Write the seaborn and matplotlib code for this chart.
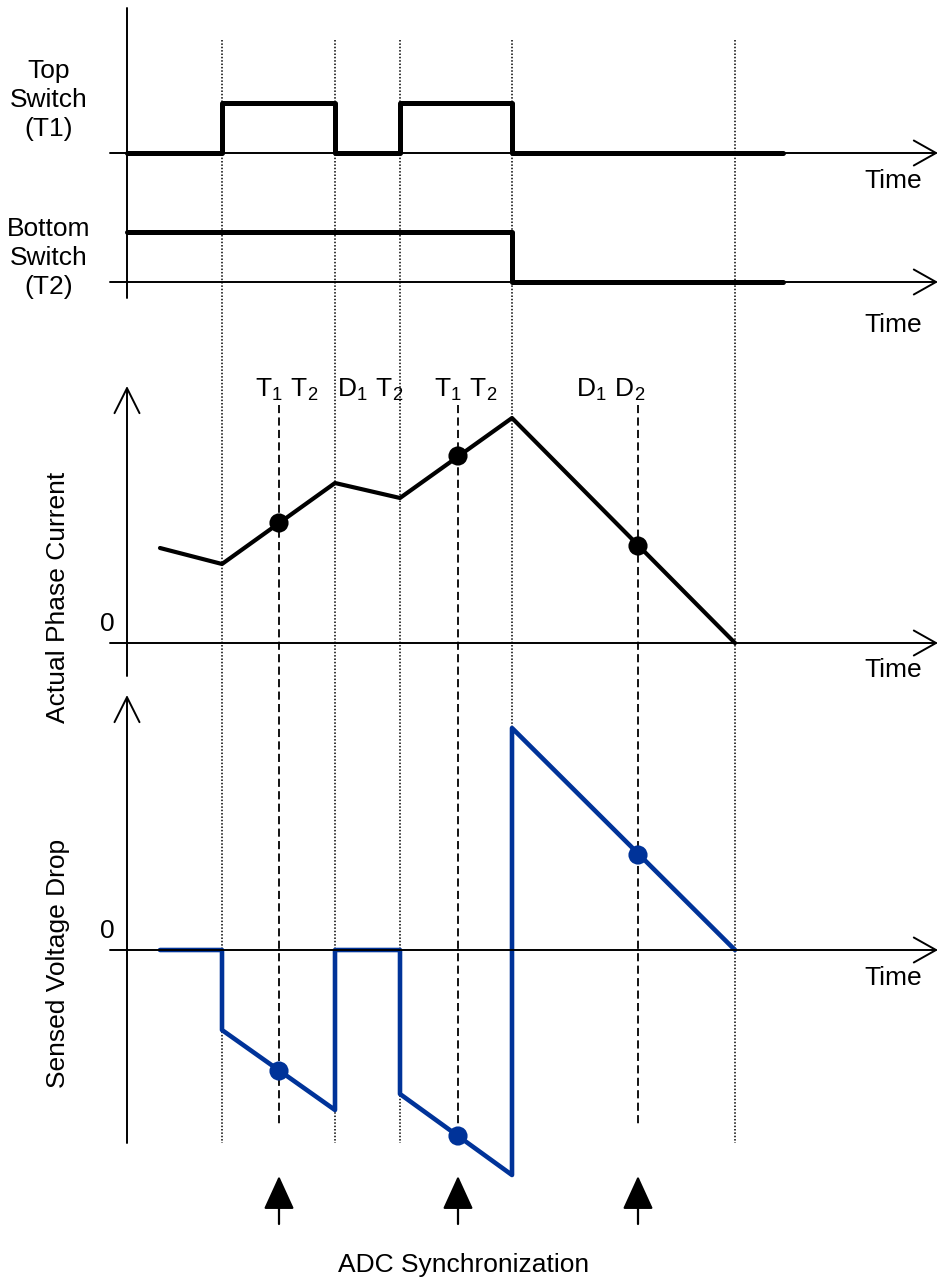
import numpy as np
import seaborn as sns
import matplotlib.pyplot as plt

# time in units of 100 px, origin at the vertical axes
edges = [0.95, 2.08, 2.73, 3.85, 6.08]          # dotted switching instants
samples = [1.52, 3.31, 5.11]                    # ADC sampling instants
states = ['$\\mathregular{T_1\\ T_2}$', '$\\mathregular{D_1\\ T_2}$',
          '$\\mathregular{T_1\\ T_2}$', '$\\mathregular{D_1\\ D_2}$']
state_x = [1.60, 2.43, 3.39, 4.84]

top_t = [0.0, 0.95, 2.08, 2.73, 3.85, 6.56]
top_v = [0, 1, 0, 1, 0, 0]
bot_t = [0.0, 3.85, 6.56]
bot_v = [1, 0, 0]

cur_t = [0.33, 0.95, 2.08, 2.73, 3.85, 6.08]
cur_v = [0.95, 0.79, 1.60, 1.45, 2.25, 0.0]
cur_s = [1.20, 1.87, 0.97]

volt_t = [0.33, 0.95, 0.95, 2.08, 2.08, 2.73, 2.73, 3.85, 3.85, 6.08]
volt_v = [0.0, 0.0, -0.80, -1.60, 0.0, 0.0, -1.44, -2.25, 2.22, 0.0]
volt_s = [-1.21, -1.86, 0.95]

W, H = 938, 1280
XLIM = (-1.27, 8.11)
BLUE = '#003399'

sns.set_style('white')
plt.rcParams['font.family'] = ['Liberation Sans', 'DejaVu Sans']
plt.rcParams['mathtext.default'] = 'regular'
plt.rcParams['text.color'] = 'black'
FS = 19

fig = plt.figure(figsize=(W / 100, H / 100), dpi=100)

# layout layer: x in time units, y in pixels from top
lay = fig.add_axes([0, 0, 1, 1])
lay.set_xlim(XLIM)
lay.set_ylim(H, 0)
lay.axis('off')


def panel(y0, k):
    ax = fig.add_axes([0, 0, 1, 1])
    ax.set_xlim(XLIM)
    ax.set_ylim(-(H - y0) / k, y0 / k)
    ax.axis('off')
    ax.patch.set_visible(False)
    ax.annotate('', xy=(XLIM[1], 0), xytext=(-0.17, 0),
                arrowprops=dict(arrowstyle='->, head_length=0.8, head_width=0.45',
                                lw=1.4, color='black', mutation_scale=20,
                                shrinkA=0, shrinkB=0))
    return ax


def up_arrow(y_from, y_to):
    lay.annotate('', xy=(0, y_to), xytext=(0, y_from),
                 arrowprops=dict(arrowstyle='->, head_length=0.9, head_width=0.45',
                                 lw=1.4, color='black', mutation_scale=20,
                                 shrinkA=0, shrinkB=0))


# guide lines
lay.vlines(edges, 40, 1143, colors='black', lw=1.1, linestyles=(0, (1, 1.2)))
lay.vlines(samples, 405, 1127, colors='black', lw=1.3, linestyles=(0, (4.5, 2.4)))

# vertical axes
lay.plot([0, 0], [8, 298], color='black', lw=1.4)
up_arrow(676, 386)
up_arrow(1143, 695)

# switches
ax_top = panel(153, 50)
ax_top.step(top_t, top_v, where='post', color='black', lw=3.6)
ax_bot = panel(282, 50)
ax_bot.step(bot_t, bot_v, where='post', color='black', lw=3.6)

# actual phase current
ax_cur = panel(643, 100)
sns.lineplot(x=cur_t, y=cur_v, ax=ax_cur, color='black', lw=3.0,
             estimator=None, sort=False)
sns.scatterplot(x=samples, y=cur_s, ax=ax_cur, color='black', s=190,
                edgecolor='none', zorder=5)

# sensed voltage drop
ax_volt = panel(950, 100)
sns.lineplot(x=volt_t, y=volt_v, ax=ax_volt, color=BLUE, lw=3.3,
             estimator=None, sort=False)
sns.scatterplot(x=samples, y=volt_s, ax=ax_volt, color=BLUE, s=190,
                edgecolor='none', zorder=5)
for a in (ax_top, ax_bot, ax_cur, ax_volt):
    a.set_xlim(XLIM)

# ADC sync arrows
for t in samples:
    lay.annotate('', xy=(t, 1176), xytext=(t, 1224),
                 arrowprops=dict(arrowstyle='-|>, head_length=1.05, head_width=0.48',
                                 lw=1.6, color='black', mutation_scale=20,
                                 shrinkA=0, shrinkB=0))

# text
lay.text(-0.78, 100, 'Top\nSwitch\n(T1)', ha='center', va='center',
         fontsize=FS, linespacing=1.25)
lay.text(-0.78, 258, 'Bottom\nSwitch\n(T2)', ha='center', va='center',
         fontsize=FS, linespacing=1.25)
for y in (181, 325, 670, 978):
    lay.text(7.66, y, 'Time', ha='center', va='center', fontsize=FS)
lay.text(-0.69, 597, 'Actual Phase Current', rotation=90, ha='center',
         va='center', fontsize=FS)
lay.text(-0.69, 963, 'Sensed Voltage Drop', rotation=90, ha='center',
         va='center', fontsize=FS)
lay.text(-0.20, 624, '0', ha='center', va='center', fontsize=FS)
lay.text(-0.20, 931, '0', ha='center', va='center', fontsize=FS)
for x, s in zip(state_x, states):
    lay.text(x, 397, s, ha='center', va='baseline', fontsize=FS)
lay.text(3.37, 1265, 'ADC Synchronization', ha='center', va='center',
         fontsize=FS)

fig.savefig('out.png', dpi=100)
